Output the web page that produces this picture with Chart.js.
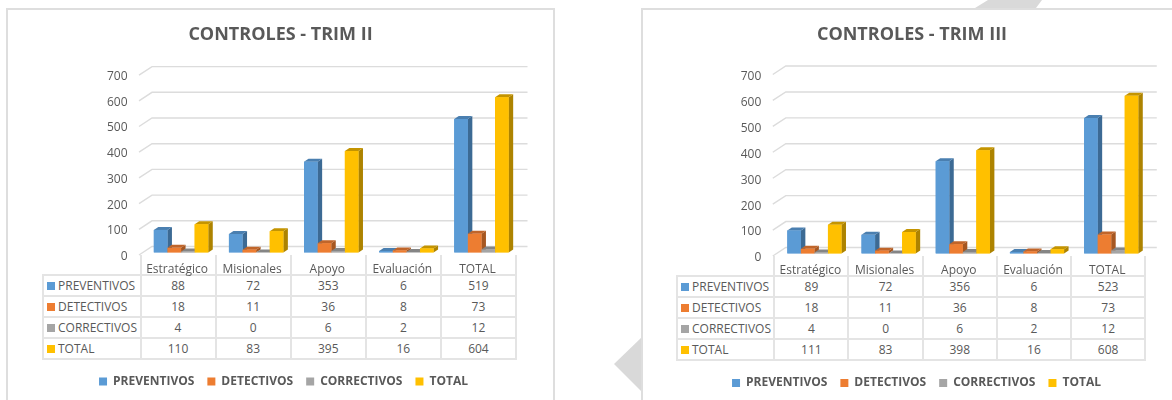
<!DOCTYPE html>
<html>
<head>
<meta charset="utf-8">
<script src="https://cdn.jsdelivr.net/npm/chart.js@4"></script>
<style>
    html, body { margin: 0; padding: 0; background: #fff; width: 1172px; height: 400px; overflow: hidden; }
    .abs { position: absolute; }
    .card { box-sizing: border-box; background: #fff; border: 2px solid #dedede; height: 450px; }
    .deco { background: #d9d9d9; }
    table { position: absolute; border-collapse: collapse; table-layout: fixed; font: 12px "Open Sans", sans-serif; color: #595959; }
    td { border: 2px solid #e4e4e4; padding: 0; text-align: center; overflow: hidden; white-space: nowrap; box-sizing: border-box; }
    td.name { text-align: left; padding-left: 3px; }
    td.blank { border-top: 0; border-bottom: 0; }
    td.corner { border: 0; border-right: 2px solid #e4e4e4; }
    .key { display: inline-block; width: 8px; height: 8px; margin-right: 3px; }
    canvas { position: absolute; top: 0; }
</style>
</head>
<body>
<div class="abs deco" style="left:975px;top:0;width:67px;height:8px;clip-path:polygon(13px 0,67px 0,61px 8px,0 8px)"></div>
<div class="abs deco" style="left:614px;top:337px;width:28px;height:55px;clip-path:polygon(0 27px,28px 0,28px 55px)"></div>
<div class="abs card" style="left:6px;top:8px;width:549px"></div>
<div class="abs card" style="left:641px;top:8px;width:600px"></div>
<canvas id="chartTrim2" width="561" height="400" style="left:0"></canvas>
<canvas id="chartTrim3" width="504" height="400" style="left:660px"></canvas>
<script>
const categories = ['Estratégico', 'Misionales', 'Apoyo', 'Evaluación', 'TOTAL'];
const seriesNames = ['PREVENTIVOS', 'DETECTIVOS', 'CORRECTIVOS', 'TOTAL'];

const trim2Preventivos = [88, 72, 353, 6, 519];
const trim2Detectivos = [18, 11, 36, 8, 73];
const trim2Correctivos = [4, 0, 6, 2, 12];
const trim2Total = [110, 83, 395, 16, 604];

const trim3Preventivos = [89, 72, 356, 6, 523];
const trim3Detectivos = [18, 11, 36, 8, 73];
const trim3Correctivos = [4, 0, 6, 2, 12];
const trim3Total = [111, 83, 398, 16, 608];

const colors = {
    front: ['#5B9BD5', '#ED7D31', '#A5A5A5', '#FFC000'],
    side: ['#3C6A94', '#A65721', '#747474', '#AD8300'],
    top: ['#4A7FB0', '#C0652A', '#858585', '#C49400'],
    grid: '#dcdcdc',
    text: '#595959',
    title: '#595959'
};

Chart.defaults.font.family = '"Open Sans", sans-serif';

// the bars get a fake depth, Chart.js has no 3D
const depthBars = {
    id: 'depthBars',
    afterDatasetsDraw(chart) {
        const ctx = chart.ctx;
        const dx = 4.5, dy = 3;
        chart.data.datasets.forEach((dataset, i) => {
            chart.getDatasetMeta(i).data.forEach(bar => {
                const left = bar.x - bar.width / 2;
                const right = bar.x + bar.width / 2;
                ctx.fillStyle = colors.side[i];
                ctx.beginPath();
                ctx.moveTo(right, bar.y);
                ctx.lineTo(right + dx, bar.y - dy);
                ctx.lineTo(right + dx, bar.base - dy);
                ctx.lineTo(right, bar.base);
                ctx.fill();
                ctx.fillStyle = colors.top[i];
                ctx.beginPath();
                ctx.moveTo(left, bar.y);
                ctx.lineTo(left + dx, bar.y - dy);
                ctx.lineTo(right + dx, bar.y - dy);
                ctx.lineTo(right, bar.y);
                ctx.fill();
                bar.draw(ctx);
            });
        });
    }
};

// back wall lines with the short diagonal on the left
const wallGrid = {
    id: 'wallGrid',
    beforeDatasetsDraw(chart, args, opts) {
        const ctx = chart.ctx;
        const y = chart.scales.y;
        ctx.save();
        ctx.strokeStyle = colors.grid;
        ctx.lineWidth = 1.4;
        y.ticks.forEach(tick => {
            const py = y.getPixelForValue(tick.value);
            ctx.beginPath();
            ctx.moveTo(chart.chartArea.left - 4.5, py + 2.5);
            ctx.lineTo(chart.chartArea.left + 8.5, py - 6);
            ctx.lineTo(chart.chartArea.right + 8.5, py - 6);
            ctx.stroke();
        });
        ctx.restore();
    }
};

const legendMove = {
    id: 'legendMove',
    afterLayout(chart, args, opts) {
        chart.legend.left += opts.shift;
        chart.legend.right += opts.shift;
        chart.legend.top = opts.top;
    }
};

function createChart(canvasId, title, values, box) {
    return new Chart(document.getElementById(canvasId), {
        type: 'bar',
        data: {
            labels: categories,
            datasets: seriesNames.map((name, i) => ({
                label: name,
                data: values[i],
                backgroundColor: colors.front[i],
                barPercentage: 1,
                categoryPercentage: box.catPct
            }))
        },
        plugins: [wallGrid, depthBars, legendMove],
        options: {
            responsive: false,
            animation: false,
            layout: { padding: { left: box.side, right: box.side, top: 0, bottom: 0 } },
            plugins: {
                tooltip: { enabled: false },
                title: {
                    display: true,
                    text: title,
                    color: colors.title,
                    font: { size: 18, weight: 'bold' },
                    padding: { top: 24.2, bottom: box.titleGap }
                },
                legend: {
                    position: 'bottom',
                    labels: {
                        boxWidth: 8,
                        boxHeight: 8,
                        padding: 13,
                        color: colors.text,
                        font: { size: 12, weight: 'bold' }
                    }
                },
                legendMove: { shift: box.legendShift, top: box.legendTop }
            },
            scales: {
                x: {
                    grid: { display: false, drawTicks: false },
                    border: { display: false },
                    afterFit: s => { s.height = box.xHeight; },
                    ticks: {
                        color: colors.text,
                        font: { size: 12 },
                        padding: 10,
                        labelOffset: -4,
                        maxRotation: 0,
                        autoSkip: false
                    }
                },
                y: {
                    min: 0,
                    max: 700,
                    grid: { display: false, drawTicks: false },
                    border: { display: false },
                    afterFit: s => { s.width = box.yWidth; },
                    ticks: {
                        stepSize: 100,
                        color: colors.text,
                        font: { size: 12 },
                        padding: 16,
                        labelOffset: box.tickShift
                    }
                }
            }
        }
    });
}

function createTable(values, box) {
    const table = document.createElement('table');
    table.style.left = box.left + 'px';
    table.style.top = box.top + 'px';
    table.style.width = box.nameWidth + box.colWidth * categories.length + 'px';
    let html = `<colgroup><col style="width:${box.nameWidth}px">`;
    categories.forEach(() => { html += `<col style="width:${box.colWidth}px">`; });
    html += `</colgroup><tr style="height:${box.headHeight}px"><td class="corner"></td>`;
    categories.forEach(() => { html += '<td class="blank"></td>'; });
    html += '</tr>';
    seriesNames.forEach((name, i) => {
        html += `<tr style="height:${box.rowHeight}px"><td class="name"><span class="key" style="background:${colors.front[i]}"></span>${name}</td>`;
        values[i].forEach(v => { html += `<td>${v}</td>`; });
        html += '</tr>';
    });
    table.innerHTML = html;
    document.body.insertBefore(table, document.getElementById('chartTrim2'));
}

const trim2Values = [trim2Preventivos, trim2Detectivos, trim2Correctivos, trim2Total];
const trim3Values = [trim3Preventivos, trim3Detectivos, trim3Correctivos, trim3Total];

createTable(trim2Values, { left: 42, top: 255, nameWidth: 97.5, colWidth: 75.1, headHeight: 20, rowHeight: 20.9 });
createTable(trim3Values, { left: 676, top: 256, nameWidth: 97.3, colWidth: 74.2, headHeight: 20, rowHeight: 21 });

createChart('chartTrim2', 'CONTROLES - TRIM II', trim2Values, {
    side: 42, yWidth: 101.5, xHeight: 112.5, titleGap: 26.8, catPct: 0.725,
    tickShift: 4, legendShift: 3, legendTop: 362.5
});
createChart('chartTrim3', 'CONTROLES - TRIM III', trim3Values, {
    side: 15.7, yWidth: 101.6, xHeight: 111.5, titleGap: 26.2, catPct: 0.73,
    tickShift: 4.5, legendShift: 4.5, legendTop: 364
});
</script>
</body>
</html>
